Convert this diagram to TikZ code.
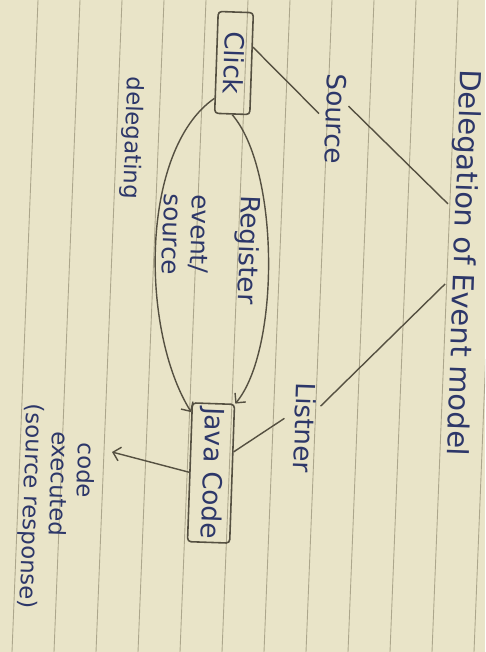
\documentclass[tikz,border=0pt]{standalone}
\usepackage{fontspec}
\setmainfont{DejaVu Sans}
\usetikzlibrary{positioning,calc,arrows.meta}
\definecolor{PaperCream}{RGB}{233,228,200}
\definecolor{RuleGrey}{RGB}{172,166,140}
\definecolor{InkBlue}{RGB}{45,55,105}
\definecolor{PencilGrey}{RGB}{85,80,65}

\begin{document}
\begin{tikzpicture}[x=0.02cm,y=-0.02cm,>={Straight Barb[length=4pt,width=8pt]},
      lbl/.style={text=InkBlue,rotate=-92,inner sep=1pt,font=\fontsize{15}{15}\selectfont},
      box/.style={lbl,draw=PencilGrey,line width=0.9pt,rounded corners=2pt,inner sep=2pt},
      pen/.style={draw=PencilGrey,line width=0.8pt}]
  \fill[PaperCream] (0,0) rectangle (485,652);
  \useasboundingbox (0,0) rectangle (485,652);
  \begin{scope}
    \clip (0,0) rectangle (485,652);
    \foreach \rx in {38,80,...,500}
      \draw[RuleGrey,line width=0.5pt] (\rx,0) -- (\rx-26,652);
  \end{scope}
  \node[lbl,font=\fontsize{16.5}{18}\selectfont] (title) at (462,263) {Delegation of Event model};
  \node[lbl] (source) at (336,119) {Source};
  \node[lbl] (listner) at (305,428) {Listner};
  \node[box,minimum width=58pt,minimum height=20pt] (click) at (234,63) {Click};
  \node[box,minimum width=79pt,minimum height=24pt] (java) at (211,473) {Java Code};
  \node[lbl] (register) at (247,250) {Register};
  \node[lbl,align=left,font=\fontsize{14}{16}\selectfont] (evsrc) at (186,235) {event/\\source};
  \node[lbl,font=\fontsize{13}{15}\selectfont] (delegating) at (132,138) {delegating};
  \node[lbl,anchor=west,align=left,font=\fontsize{13}{15}\selectfont] (executed) at (60,403)
       {\hspace*{21pt}code\\\hspace*{15pt}executed\\(source response)};
  \coordinate (codetip) at (112,452);
  \draw[pen,shorten >=4pt] (click.132) -- (source.south);
  \draw[pen] ($(source.north west)!0.36!(source.north east)$) -- ($(title.south west)!0.35!(title.south east)$);
  \draw[pen,shorten >=2pt] ($(title.south west)!0.555!(title.south east)$) -- ($(listner.north west)!0.29!(listner.north east)$);
  \draw[pen,shorten <=6pt] ($(listner.south west)!0.34!(listner.south east)$) -- (java.135);
  \draw[pen,->] (click.east) .. controls (280,170) and (280,350) .. (java.north west);
  \draw[pen,->] (click.333) .. controls (140,150) and (140,330) .. (java.200);
  \draw[pen,->] (java.south) -- (codetip);
\end{tikzpicture}
\end{document}
